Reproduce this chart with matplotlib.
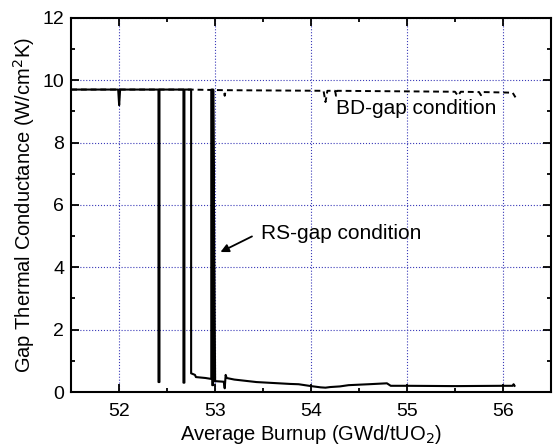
import matplotlib.pyplot as plt
from matplotlib.ticker import MultipleLocator

plt.rcParams['font.family'] = ['Liberation Sans', 'DejaVu Sans']

# RS-gap condition (solid)
rs_x = [51.5, 51.99, 52.0, 52.01, 52.41, 52.41, 52.42, 52.42, 52.67, 52.67, 52.68, 52.68,
        52.75, 52.75, 52.79, 52.8, 52.9, 52.96, 52.96, 52.97, 52.97, 52.98, 52.98, 53.0,
        53.09, 53.1, 53.11, 53.12, 53.2, 53.43, 53.78, 53.87, 54.0, 54.1, 54.15, 54.2,
        54.3, 54.39, 54.6, 54.79, 54.83, 55.0, 55.5, 56.0, 56.1, 56.11, 56.12]
rs_y = [9.7, 9.7, 9.2, 9.7, 9.7, 0.32, 0.32, 9.7, 9.7, 0.3, 0.3, 9.7,
        9.7, 0.6, 0.55, 0.48, 0.45, 0.42, 9.7, 9.7, 0.22, 0.22, 9.7, 0.35,
        0.33, 0.12, 0.55, 0.45, 0.4, 0.32, 0.26, 0.25, 0.19, 0.15, 0.14, 0.16,
        0.18, 0.22, 0.25, 0.28, 0.2, 0.2, 0.19, 0.2, 0.2, 0.25, 0.2]

# BD-gap condition (dashed)
bd_x = [51.5, 52.73, 53.09, 53.1, 53.11, 54.13, 54.15, 54.17, 54.25, 54.26, 54.27,
        55.5, 55.53, 55.56, 55.75, 55.77, 55.79, 56.1, 56.13]
bd_y = [9.7, 9.7, 9.68, 9.5, 9.68, 9.66, 9.3, 9.66, 9.66, 9.5, 9.66,
        9.63, 9.5, 9.63, 9.62, 9.52, 9.62, 9.6, 9.45]

fig = plt.figure(figsize=(5.56, 4.46), dpi=100)
ax = fig.add_axes([0.128, 0.121, 0.863, 0.839])

ax.plot(bd_x, bd_y, color='black', lw=1.4, linestyle=(0, (3, 2)))
ax.plot(rs_x, rs_y, color='black', lw=1.5)

ax.set_xlim(51.5, 56.5)
ax.set_ylim(0, 12)
ax.xaxis.set_major_locator(MultipleLocator(1))
ax.xaxis.set_minor_locator(MultipleLocator(0.5))
ax.yaxis.set_major_locator(MultipleLocator(2))
ax.yaxis.set_minor_locator(MultipleLocator(1))
ax.grid(True, which='major', color='#3a3ab8', linestyle=':', linewidth=0.8)
ax.tick_params(which='both', direction='in', top=True, right=True, labelsize=14, width=1.3)
ax.tick_params(which='major', length=6)
ax.tick_params(which='minor', length=3)
ax.tick_params(axis='x', which='major', pad=8)
ax.tick_params(axis='y', which='major', pad=5)
for s in ax.spines.values():
    s.set_linewidth(1.5)

ax.set_xlabel('Average Burnup (GWd/tUO$_2$)', fontsize=14.5, labelpad=2)
ax.set_ylabel('Gap Thermal Conductance (W/cm$^2$K)', fontsize=14.5, labelpad=4)

ax.text(54.26, 9.1, 'BD-gap condition', fontsize=15, va='center', ha='left')
ax.text(53.48, 5.1, 'RS-gap condition', fontsize=15, va='center', ha='left')
ax.annotate('', xy=(53.03, 4.45), xytext=(53.41, 5.03),
            arrowprops=dict(arrowstyle='-|>', color='black', lw=1.3, mutation_scale=12))

fig.savefig('out.png', dpi=100)
